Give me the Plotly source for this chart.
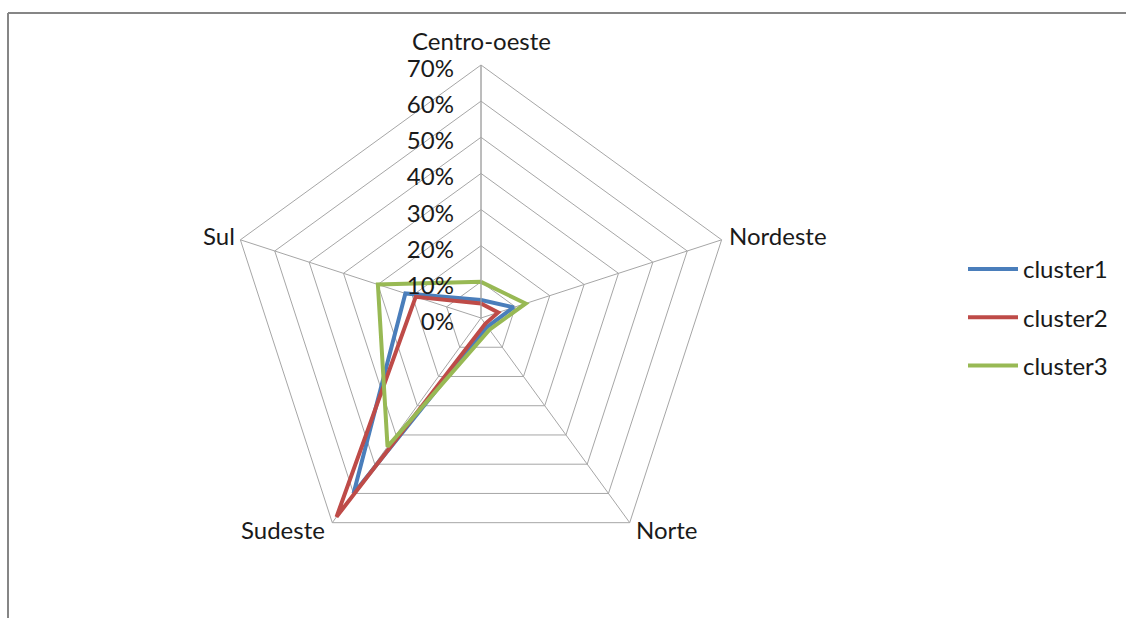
import math
import plotly.graph_objects as go

categories = ["Centro-oeste", "Nordeste", "Norte", "Sudeste", "Sul"]
cluster1 = [0.05, 0.095, 0.03, 0.60, 0.22]
cluster2 = [0.04, 0.05, 0.02, 0.68, 0.19]
cluster3 = [0.10, 0.13, 0.04, 0.44, 0.30]
series_names = ["cluster1", "cluster2", "cluster3"]
series_values = [cluster1, cluster2, cluster3]
colors = ["#4a7ebb", "#be4b48", "#98b954"]

FONT = "Lato, Carlito, Calibri, sans-serif"
FS = 24

fig = go.Figure()
for name, vals, col in zip(series_names, series_values, colors):
    fig.add_trace(go.Scatterpolar(
        r=vals + [vals[0]],
        theta=categories + [categories[0]],
        mode="lines",
        name=name,
        legendgroup=name,
        line=dict(color=col, width=4),
    ))

W, H = 1126, 618
cx, cy, R = 481, 318, 253

# category labels placed just outside the pentagon vertices
annotations = []
n = len(categories)
for i, cat in enumerate(categories):
    th = 2 * math.pi * i / n
    vx = cx + R * math.sin(th)
    vy = cy - R * math.cos(th)
    s = math.sin(th)
    c = math.cos(th)
    if abs(s) < 1e-6:
        xa, ya, xs, ys = "center", "bottom", 0, 8
    elif c > 0:
        xa, ya = ("left" if s > 0 else "right"), "middle"
        xs, ys = (5 if s > 0 else -3), 4
    else:
        xa, ya = ("left" if s > 0 else "right"), "middle"
        xs, ys = (4 if s > 0 else -5), -7
    annotations.append(dict(
        text=cat, xref="paper", yref="paper",
        x=vx / W, y=(H - vy) / H, xanchor=xa, yanchor=ya,
        xshift=xs, yshift=ys, showarrow=False,
        font=dict(size=FS, family=FONT, color="#1a1a1a"),
    ))

fig.update_layout(
    width=W, height=H,
    margin=dict(l=0, r=0, t=0, b=0),
    paper_bgcolor="white",
    font=dict(family=FONT, size=FS, color="#1a1a1a"),
    annotations=annotations,
    polar=dict(
        domain=dict(x=[(cx - R) / W, (cx + R) / W], y=[(H - cy - R) / H, (H - cy + R) / H]),
        bgcolor="white",
        gridshape="linear",
        angularaxis=dict(
            direction="clockwise", rotation=90,
            showline=True, linecolor="#a6a6a6", linewidth=1,
            gridcolor="#a6a6a6", gridwidth=1,
            ticks="", showticklabels=False,
        ),
        radialaxis=dict(
            range=[0, 0.7], dtick=0.1, tickformat=".0%",
            angle=90, side="counterclockwise",
            showline=True, linecolor="#a6a6a6", linewidth=1,
            gridcolor="#a6a6a6", gridwidth=1,
            ticks="outside", ticklen=5, tickcolor="rgba(0,0,0,0)",
            tickfont=dict(size=FS, family=FONT, color="#1a1a1a"),
        ),
    ),
    legend=dict(
        x=963 / W, y=(H - 247) / H, xanchor="left", yanchor="top",
        font=dict(size=FS, family=FONT, color="#1a1a1a"),
        tracegroupgap=14, itemwidth=50,
        bgcolor="rgba(0,0,0,0)",
    ),
    shapes=[
        dict(type="line", xref="paper", yref="paper", x0=8 / W, x1=1.0, y0=(H - 13) / H, y1=(H - 13) / H,
             line=dict(color="#868686", width=2)),
        dict(type="line", xref="paper", yref="paper", x0=8 / W, x1=8 / W, y0=0, y1=(H - 13) / H,
             line=dict(color="#868686", width=2)),
    ],
)

fig.write_html("out.html")
